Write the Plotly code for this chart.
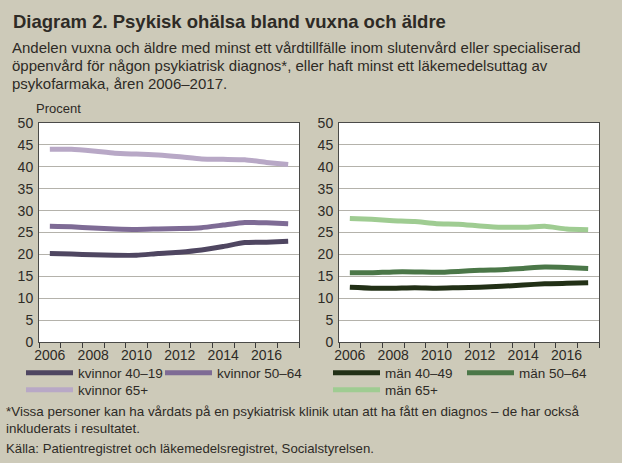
import plotly.graph_objects as go

W, H = 622, 463

years = list(range(2006, 2018))

# kvinnor
kv_40_19 = [20.2, 20.1, 19.9, 19.8, 19.8, 20.2, 20.5, 21.0, 21.8, 22.7, 22.8, 23.0]
kv_50_64 = [26.4, 26.3, 26.0, 25.8, 25.7, 25.8, 25.9, 26.1, 26.7, 27.3, 27.2, 27.0]
kv_65 = [44.0, 44.0, 43.6, 43.1, 42.9, 42.7, 42.3, 41.8, 41.7, 41.6, 41.0, 40.5]

# män
man_40_49 = [12.5, 12.3, 12.3, 12.4, 12.3, 12.4, 12.5, 12.7, 13.0, 13.3, 13.4, 13.5]
man_50_64 = [15.8, 15.8, 16.0, 16.0, 15.9, 16.1, 16.4, 16.5, 16.8, 17.1, 17.0, 16.8]
man_65 = [28.2, 28.0, 27.7, 27.5, 27.0, 26.9, 26.5, 26.2, 26.2, 26.4, 25.8, 25.6]

x_labels = [2006, 2008, 2010, 2012, 2014, 2016]
y_ticks = list(range(0, 51, 5))

series = [
    ("kvinnor 40–19", kv_40_19, "#4f4661", "x", "y", "legend"),
    ("kvinnor 50–64", kv_50_64, "#7e6b95", "x", "y", "legend2"),
    ("kvinnor 65+", kv_65, "#b8a8c6", "x", "y", "legend3"),
    ("män 40–49", man_40_49, "#223016", "x2", "y2", "legend4"),
    ("män 50–64", man_50_64, "#4b7748", "x2", "y2", "legend5"),
    ("män 65+", man_65, "#9fcc92", "x2", "y2", "legend6"),
]

FONT = "Liberation Sans, Arial, sans-serif"
BG = "#cdcab9"
TXT = "#2e2b26"


def px_x(p):
    return p / W


def px_y(p):
    return 1 - p / H


fig = go.Figure()
for name, vals, col, xa, ya, lg in series:
    fig.add_trace(go.Scatter(
        x=years, y=vals, name=name, mode="lines",
        line=dict(color=col, width=5, shape="spline", smoothing=0.5),
        xaxis=xa, yaxis=ya, legend=lg, showlegend=True,
    ))

ax_common = dict(
    range=[2005.5, 2017.5], tickmode="array", tickvals=x_labels,
    ticks="", showgrid=False, zeroline=False,
    showline=True, linecolor="#4a4a48", linewidth=1, mirror=True,
    tickfont=dict(family=FONT, size=14, color=TXT),
    minor=dict(tickmode="linear", tick0=2005.5, dtick=1, ticks="outside",
               ticklen=5, tickcolor="#3a3a3a", tickwidth=1, showgrid=False),
    fixedrange=True, automargin=False,
)
ay_common = dict(
    range=[0, 50], tickmode="array", tickvals=y_ticks, ticks="",
    showgrid=True, gridcolor="#b4b2ab", gridwidth=1, zeroline=False,
    showline=True, linecolor="#4a4a48", linewidth=1, mirror=True,
    tickfont=dict(family=FONT, size=14, color=TXT), ticklabelstandoff=2,
    fixedrange=True, automargin=False,
)

y_dom = [px_y(342), px_y(123)]
fig.update_layout(
    width=W, height=H, autosize=False, showlegend=True,
    margin=dict(l=0, r=0, t=0, b=0, autoexpand=False),
    paper_bgcolor=BG, plot_bgcolor="white",
    font=dict(family=FONT, color=TXT),
    xaxis=dict(domain=[px_x(39), px_x(299)], anchor="y", **ax_common),
    yaxis=dict(domain=y_dom, anchor="x", **ay_common),
    xaxis2=dict(domain=[px_x(339), px_x(599)], anchor="y2", **ax_common),
    yaxis2=dict(domain=y_dom, anchor="x2", **ay_common),
)

legend_pos = {
    "legend": (21, 373),
    "legend2": (160, 373),
    "legend3": (21, 390),
    "legend4": (328, 373),
    "legend5": (462, 373),
    "legend6": (328, 390),
}
for key, (lx, ly) in legend_pos.items():
    fig.update_layout({key: dict(
        x=px_x(lx), y=px_y(ly), xanchor="left", yanchor="middle",
        xref="container", yref="container",
        orientation="h", bgcolor="rgba(0,0,0,0)", borderwidth=0,
        font=dict(family=FONT, size=13.5, color=TXT), itemclick=False,
        itemwidth=47, visible=True,
    )})

texts = [
    ("<b>Diagram 2. Psykisk ohälsa bland vuxna och äldre</b>", 11, 21, 18.5),
    ("Andelen vuxna och äldre med minst ett vårdtillfälle inom slutenvård eller specialiserad", 10, 48, 15),
    ("öppenvård för någon psykiatrisk diagnos*, eller haft minst ett läkemedelsuttag av", 10, 66, 15),
    ("psykofarmaka, åren 2006–2017.", 10, 84, 15),
    ("Procent", 34, 108, 13),
    ("*Vissa personer kan ha vårdats på en psykiatrisk klinik utan att ha fått en diagnos – de har också", 4, 411, 13.4),
    ("inkluderats i resultatet.", 4, 428, 13.4),
    ("Källa: Patientregistret och läkemedelsregistret, Socialstyrelsen.", 4, 448, 13.2),
]
for t, tx, ty, fs in texts:
    fig.add_annotation(
        text=t, x=px_x(tx), y=px_y(ty), xref="paper", yref="paper",
        xanchor="left", yanchor="middle", showarrow=False,
        font=dict(family=FONT, size=fs, color=TXT),
    )

fig.write_html("out.html", config={"displayModeBar": False},
               post_script="document.body.style.margin='0';")
